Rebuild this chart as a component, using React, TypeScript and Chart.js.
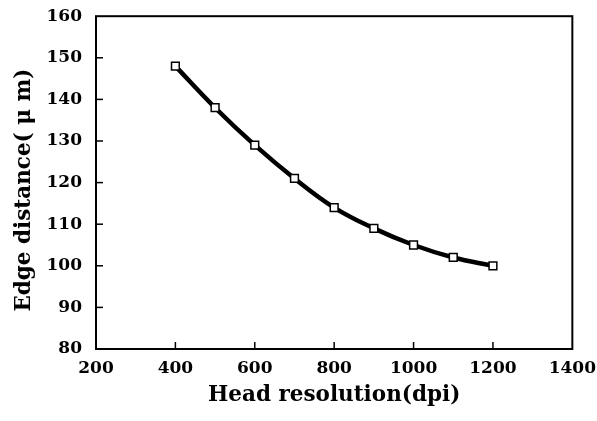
import React, { useEffect, useRef } from "react";
import { Chart, registerables } from "chart.js";

Chart.register(...registerables);

const resolutions = [400, 500, 600, 700, 800, 900, 1000, 1100, 1200];
const edgeDistance = [148, 138, 129, 121, 114, 109, 105, 102, 100];
const xTitle = "Head resolution(dpi)";
const yTitle = "Edge distance( \u03bc m)  ";

const innerTicks = {
  id: "innerTicks",
  afterDraw(chart: any) {
    const { ctx, chartArea, scales } = chart;
    ctx.save();
    ctx.strokeStyle = "#000";
    ctx.lineWidth = 1.5;
    const len = 7;
    scales.x.ticks.forEach((t: any) => {
      const px = scales.x.getPixelForValue(t.value);
      if (px <= chartArea.left + 1 || px >= chartArea.right - 1) return;
      ctx.beginPath();
      ctx.moveTo(px, chartArea.bottom);
      ctx.lineTo(px, chartArea.bottom - len);
      ctx.stroke();
    });
    scales.y.ticks.forEach((t: any) => {
      const py = scales.y.getPixelForValue(t.value);
      if (py <= chartArea.top + 1 || py >= chartArea.bottom - 1) return;
      ctx.beginPath();
      ctx.moveTo(chartArea.left, py);
      ctx.lineTo(chartArea.left + len, py);
      ctx.stroke();
    });
    ctx.lineWidth = 2;
    ctx.strokeRect(chartArea.left, chartArea.top, chartArea.right - chartArea.left, chartArea.bottom - chartArea.top);
    ctx.restore();
  },
};

export default function App() {
  const ref = useRef<HTMLCanvasElement>(null);
  useEffect(() => {
    document.body.style.margin = "0";
    const tickFont = { family: "DejaVu Serif", size: 17, weight: "bold" as const };
    const titleFont = { family: "DejaVu Serif", size: 21.5, weight: "bold" as const };
    const chart = new Chart(ref.current!, {
      type: "line",
      data: {
        datasets: [
          {
            data: resolutions.map((x, i) => ({ x, y: edgeDistance[i] })),
            borderColor: "#000",
            borderWidth: 4.5,
            tension: 0.4,
            pointStyle: "rect",
            pointRadius: 5.5,
            pointBackgroundColor: "#fff",
            pointBorderColor: "#000",
            pointBorderWidth: 1.5,
          },
        ],
      },
      options: {
        animation: false,
        responsive: false,
        layout: { padding: { top: 10, right: 24, left: 0, bottom: 0 } },
        plugins: { legend: { display: false }, tooltip: { enabled: false } },
        scales: {
          x: {
            type: "linear",
            min: 200,
            max: 1400,
            ticks: { stepSize: 200, color: "#000", font: tickFont, padding: 1, maxRotation: 0, callback: (v: any) => String(v) },
            grid: { display: false },
            border: { display: false },
            title: { display: true, text: xTitle, color: "#000", font: titleFont, padding: { top: 0, bottom: 13 } },
            afterFit(s: any) { s.height = 72; },
          },
          y: {
            min: 80,
            max: 160,
            ticks: { stepSize: 10, color: "#000", font: tickFont, padding: 6, callback: (v: any) => String(v) },
            grid: { display: false },
            border: { display: false },
            title: { display: true, text: yTitle, color: "#000", font: titleFont, padding: { top: 12, bottom: 0 } },
            afterFit(s: any) { s.width = 96; },
          },
        },
      },
      plugins: [innerTicks],
    });
    return () => chart.destroy();
  }, []);
  return <canvas ref={ref} width={597} height={421} style={{ display: "block" }} />;
}
